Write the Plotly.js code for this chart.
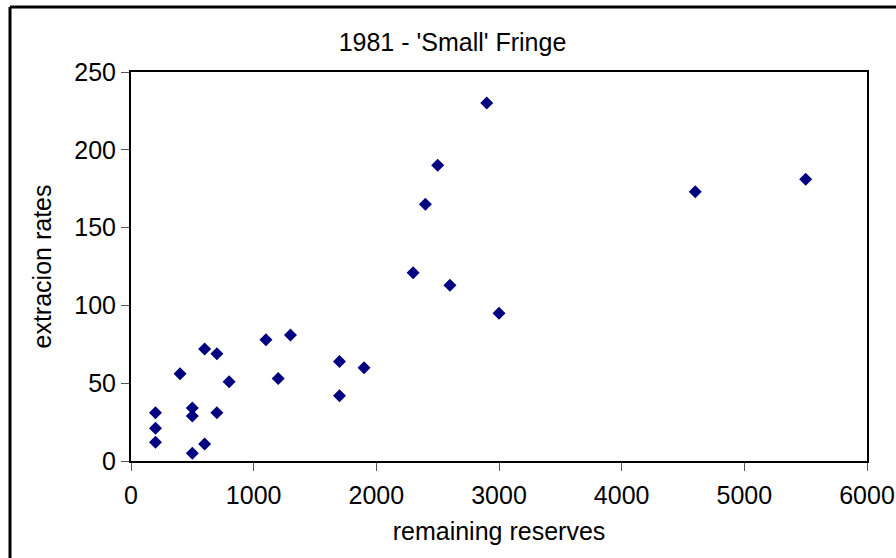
<!DOCTYPE html>
<html>
<head>
<meta charset="utf-8">
<script src="https://cdn.plot.ly/plotly-3.0.1.min.js"></script>
<style>html,body{margin:0;padding:0;background:#fff;}#chart{width:896px;height:558px;}</style>
</head>
<body>
<div id="chart"></div>
<script>
const remainingReserves = [200, 200, 200, 400, 500, 500, 500, 600, 600, 700, 700, 800, 1100, 1200, 1300, 1700, 1700, 1900, 2300, 2400, 2500, 2600, 2900, 3000, 4600, 5500];
const extractionRates   = [31, 21, 12, 56, 34, 29, 5, 72, 11, 69, 31, 51, 78, 53, 81, 64, 42, 60, 121, 165, 190, 113, 230, 95, 173, 181];
const xTicks = [0, 1000, 2000, 3000, 4000, 5000, 6000];
const yTicks = [0, 50, 100, 150, 200, 250];
const chartTitle = "1981 - 'Small' Fringe";
const xTitle = "remaining reserves";
const yTitle = "extracion rates";

const FS = 25;
const font = {family: "Liberation Sans, Arial, sans-serif", color: "#000", size: FS};

const trace = {
  type: "scatter",
  mode: "markers",
  x: remainingReserves,
  y: extractionRates,
  marker: {symbol: "diamond", size: 10, color: "#000080", line: {width: 0}},
  hoverinfo: "x+y"
};

const L = 131, R = 867, T = 72, B = 461, W = 896, H = 558;
const pw = R - L, ph = B - T;
function px(x) { return (x - L) / pw; }
function py(y) { return (B - y) / ph; }

const layout = {
  width: W, height: H,
  margin: {l: L, r: W - R, t: T, b: H - B, pad: 0},
  paper_bgcolor: "#fff",
  plot_bgcolor: "#fff",
  font: font,
  showlegend: false,
  title: {text: chartTitle, font: {family: font.family, size: FS, color: "#000"},
          xref: "container", x: 0.505, xanchor: "center",
          yref: "container", y: 1 - 42 / H, yanchor: "middle"},
  xaxis: {
    range: [0, 6000], tickvals: xTicks, ticktext: xTicks.map(String),
    showgrid: false, zeroline: false,
    showline: true, mirror: true, linecolor: "#000", linewidth: 2,
    ticks: "outside", ticklen: 8, tickwidth: 1, tickcolor: "#555",
    ticklabelstandoff: 3,
    tickfont: {family: font.family, size: FS, color: "#000"},
    title: {text: xTitle, font: {family: font.family, size: FS, color: "#000"}, standoff: 14}
  },
  yaxis: {
    range: [0, 250], tickvals: yTicks, ticktext: yTicks.map(String),
    showgrid: false, zeroline: false,
    showline: true, mirror: true, linecolor: "#000", linewidth: 2,
    ticks: "outside", ticklen: 8, tickwidth: 1, tickcolor: "#555",
    tickfont: {family: font.family, size: FS, color: "#000"},
    title: {text: yTitle, font: {family: font.family, size: FS, color: "#000"}, standoff: 16}
  },
  shapes: [
    {type: "line", xref: "paper", yref: "paper", x0: px(10), x1: px(10), y0: py(7), y1: py(570),
     line: {color: "#000", width: 3}},
    {type: "line", xref: "paper", yref: "paper", x0: px(10), x1: px(910), y0: py(7), y1: py(7),
     line: {color: "#000", width: 3}}
  ]
};

Plotly.newPlot("chart", [trace], layout, {displayModeBar: false, staticPlot: true});
</script>
</body>
</html>
